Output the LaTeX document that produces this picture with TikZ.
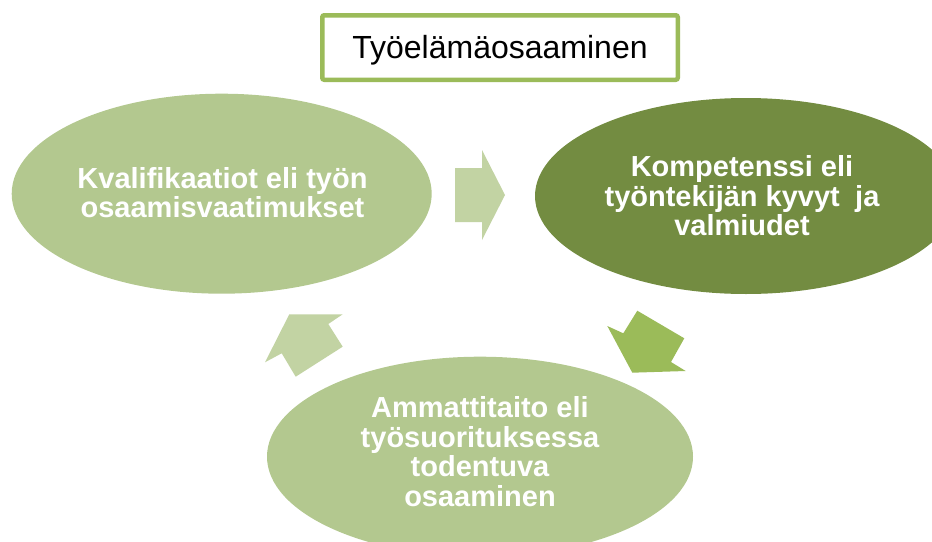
\documentclass[tikz,border=0pt]{standalone}
\usepackage{fontspec}
\setmainfont{Liberation Sans}
\usetikzlibrary{shapes.geometric}
\definecolor{lightolive}{HTML}{B3C88F}
\definecolor{darkolive}{HTML}{738C41}
\definecolor{arrowlight}{HTML}{C2D3A3}
\definecolor{arrowmid}{HTML}{9BBB59}
\definecolor{boxline}{HTML}{9BBB59}
\tikzset{
  blob/.style={ellipse, inner sep=0pt, draw=none},
  blobtext/.style={text=white, font=\bfseries\fontsize{29}{29.5}\selectfont, align=center, inner sep=0pt},
  titlebox/.style={draw=boxline, line width=4.5pt, rounded corners=2pt, fill=white,
     minimum width=355.5pt, minimum height=64.5pt, inner sep=0pt,
     text height=24pt, text depth=2.4pt, font=\fontsize{32}{36}\selectfont},
}
\begin{document}
\begin{tikzpicture}[x=1pt,y=-1pt]
\useasboundingbox (0,0) rectangle (932,541);
% ellipses
\node[blob, fill=lightolive, minimum width=420pt, minimum height=200pt] (kval) at (221.7,193.7) {};
\node[blob, fill=darkolive, minimum width=422pt, minimum height=196pt] (komp) at (746,196) {};
\node[blob, fill=lightolive, minimum width=426pt, minimum height=200pt] (amm) at (480,456.7) {};
% texts
\node[blobtext] (kvalt) at (222.5,192.5) {Kvalifikaatiot eli työn\\osaamisvaatimukset};
\node[blobtext] (kompt) at (742,196) {Kompetenssi eli\\työntekijän kyvyt\hspace{0.25em} ja\\valmiudet};
\node[blobtext] (ammt) at (480,451.5) {Ammattitaito eli\\työsuorituksessa\\todentuva\\osaaminen};
% block arrows
\fill[arrowlight] (455,168) -- (482,168) -- (482,150) -- (505,195) -- (482,240) -- (482,222) -- (455,222) -- cycle;
\fill[arrowmid] (632.3,372.7) -- (607.3,326) -- (623.3,333.3) -- (637.3,310.7) -- (684.3,338.3) -- (671,362) -- (685.7,371) -- cycle;
\fill[arrowlight] (289.3,314.3) -- (342.7,314.3) -- (328.3,324) -- (342.7,346.7) -- (295.7,376.7) -- (281.7,353.3) -- (265,362.3) -- cycle;
% title
\node[titlebox] (title) at (500,47.5) {Työelämäosaaminen};
\end{tikzpicture}
\end{document}
